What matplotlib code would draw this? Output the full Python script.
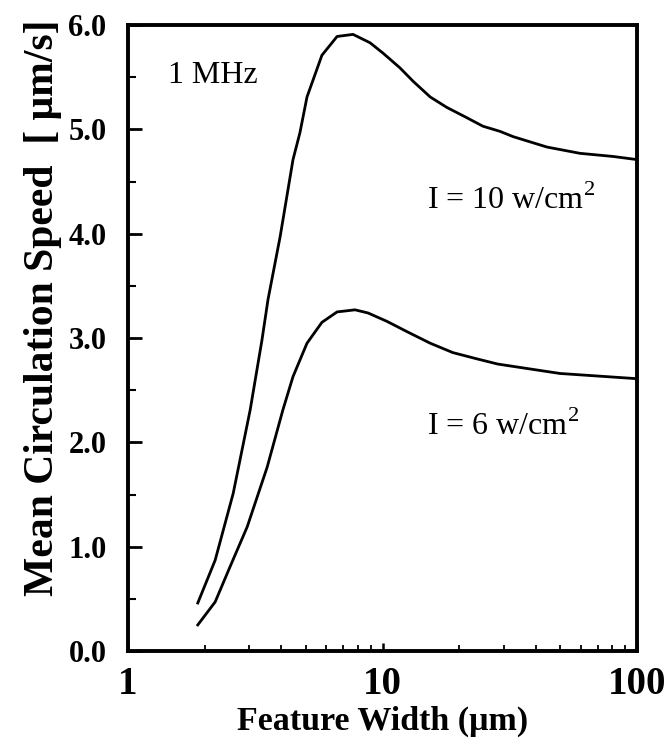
import matplotlib.pyplot as plt
import numpy as np
from matplotlib.ticker import FixedLocator, NullFormatter

plt.rcParams["font.family"] = ["Liberation Serif", "DejaVu Serif"]
plt.rcParams["mathtext.fontset"] = "custom"
plt.rcParams["mathtext.rm"] = "Liberation Serif"

# Feature width (um) and mean circulation speed (um/s), 1 MHz
width_10 = [1.88, 2.20, 2.59, 3.02, 3.36, 3.55, 3.96, 4.45, 4.74, 5.05, 5.78, 6.63,
            7.66, 8.93, 10.05, 11.7, 13.2, 15.4, 17.9, 21.5, 24.8, 29.0, 32.6,
            44.3, 59.7, 80.5, 100]
speed_10 = [0.46, 0.87, 1.51, 2.31, 2.98, 3.37, 3.97, 4.71, 4.97, 5.31, 5.71, 5.89,
            5.91, 5.83, 5.73, 5.59, 5.46, 5.31, 5.21, 5.11, 5.03, 4.98, 4.93,
            4.83, 4.77, 4.74, 4.71]

width_6 = [1.88, 2.20, 2.52, 2.94, 3.52, 4.06, 4.45, 5.05, 5.78, 6.63, 7.80, 8.77,
           10.4, 12.5, 15.4, 18.9, 23.5, 28.4, 49.8, 100]
speed_6 = [0.25, 0.47, 0.81, 1.19, 1.76, 2.31, 2.63, 2.95, 3.15, 3.25, 3.27, 3.24,
           3.16, 3.06, 2.95, 2.86, 2.80, 2.75, 2.66, 2.61]

fig = plt.figure(figsize=(6.68, 7.5), dpi=100)
ax = fig.add_axes([128 / 668, 1 - 651 / 750, 509 / 668, 626 / 750])

ax.plot(width_10, speed_10, color="black", lw=2.0, solid_joinstyle="round")
ax.plot(width_6, speed_6, color="black", lw=2.0, solid_joinstyle="round")

ax.set_xscale("log")
ax.set_xlim(1, 100)
ax.set_ylim(0, 6)

ax.set_xticks([1, 10, 100])
ax.set_xticklabels(["1", "10", "100"])
ax.xaxis.set_minor_locator(FixedLocator([m * d for d in (1, 10) for m in range(2, 10)]))
ax.xaxis.set_minor_formatter(NullFormatter())
yt = np.arange(0, 6.1, 1.0)
ax.set_yticks(yt)
ax.set_yticklabels([f"{v:.1f}" for v in yt])
ax.yaxis.set_minor_locator(FixedLocator(np.arange(0.5, 6, 1.0)))

ax.tick_params(axis="y", which="major", direction="in", length=10, width=2, labelsize=22, pad=15.5)
ax.tick_params(axis="y", which="minor", direction="in", length=6, width=1.5)
ax.tick_params(axis="x", which="major", direction="in", length=6, width=1.8, labelsize=28, pad=11)
ax.tick_params(axis="x", which="minor", direction="in", length=4.5, width=1.3)
for lab in ax.get_xticklabels() + ax.get_yticklabels():
    lab.set_fontweight("bold")

for s in ax.spines.values():
    s.set_linewidth(2.8)

ax.set_xlabel("Feature Width (μm)", fontsize=24.5, fontweight="bold")
ax.xaxis.set_label_coords(0.5, -0.088)
ax.set_ylabel("Mean Circulation Speed  [ μm/s]", fontsize=30, fontweight="bold")
ax.yaxis.set_label_coords(-0.13, 0.548)

ax.text(1.43, 5.52, "1 MHz", fontsize=23, va="center")
ax.text(15.0, 4.32, r"I = 10 w/cm$^2$", fontsize=23, va="center")
ax.text(15.0, 2.15, r"I = 6 w/cm$^2$", fontsize=23, va="center")

fig.savefig("out.png", dpi=100)
